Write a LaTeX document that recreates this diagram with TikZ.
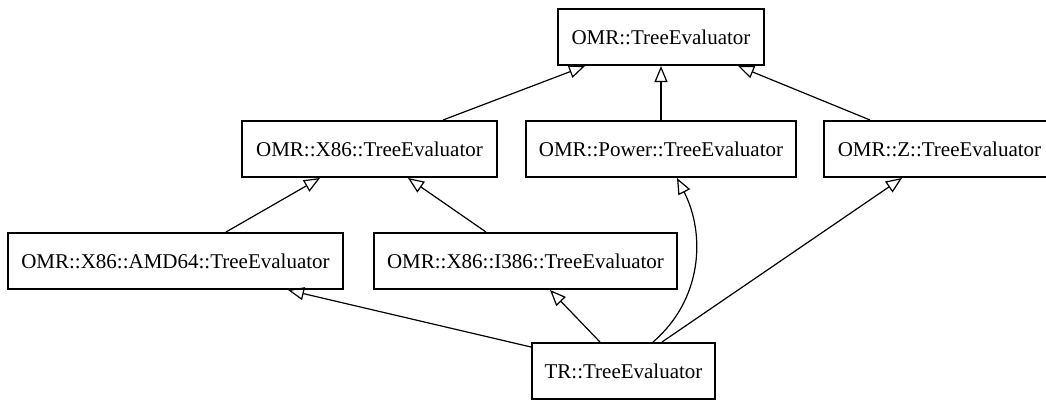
\documentclass[tikz,border=0pt]{standalone}
\usepackage{fontspec}
\setmainfont{Liberation Serif}
\usetikzlibrary{arrows.meta}
\begin{document}
\begin{tikzpicture}[x=1pt, y=-1pt,
  cls/.style={draw, line width=2pt, inner sep=0pt, minimum height=56pt,
              font=\fontsize{21}{25}\selectfont},
  inh/.style={line width=1.2pt,
              -{Triangle[open, length=16pt, width=13pt, line width=1.2pt]}}]
\useasboundingbox (0,0) rectangle (1046,400);
\clip (0,0) rectangle (1046,400);

% class boxes
\node[cls, minimum width=206pt] (top)   at (661,37)    {OMR::TreeEvaluator};
\node[cls, minimum width=255pt] (x86)   at (369.5,149) {OMR::X86::TreeEvaluator};
\node[cls, minimum width=270pt] (power) at (661,149)   {OMR::Power::TreeEvaluator};
\node[cls, minimum width=231pt] (z)     at (939.5,149) {OMR::Z::TreeEvaluator};
\node[cls, minimum width=335pt] (amd)   at (175.5,261) {OMR::X86::AMD64::TreeEvaluator};
\node[cls, minimum width=303pt] (i386)  at (525.5,261) {OMR::X86::I386::TreeEvaluator};
\node[cls, minimum width=183pt] (tr)    at (623.5,371) {TR::TreeEvaluator};

% inheritance edges
\draw[inh] ([xshift=73.5pt]x86.north) -- ([xshift=-76pt]top.south);
\draw[inh] (power.north) -- (top.south);
\draw[inh] ([xshift=-69.5pt]z.north) -- ([xshift=77pt]top.south);
\draw[inh] ([xshift=50.5pt]amd.north) -- ([xshift=-49.5pt]x86.south);
\draw[inh] ([xshift=-39.5pt]i386.north) -- ([xshift=38.5pt]x86.south);
\draw[inh] ([yshift=-5pt]tr.north west) -- ([xshift=112.5pt]amd.south);
\draw[inh] ([xshift=-23.5pt]tr.north) -- ([xshift=24.5pt]i386.south);
\draw[inh] ([xshift=29.5pt]tr.north) .. controls (702,300) and (706,235) .. ([xshift=16pt]power.south);
\draw[inh] ([xshift=38.5pt]tr.north) -- ([xshift=-37.5pt]z.south);
\end{tikzpicture}
\end{document}
